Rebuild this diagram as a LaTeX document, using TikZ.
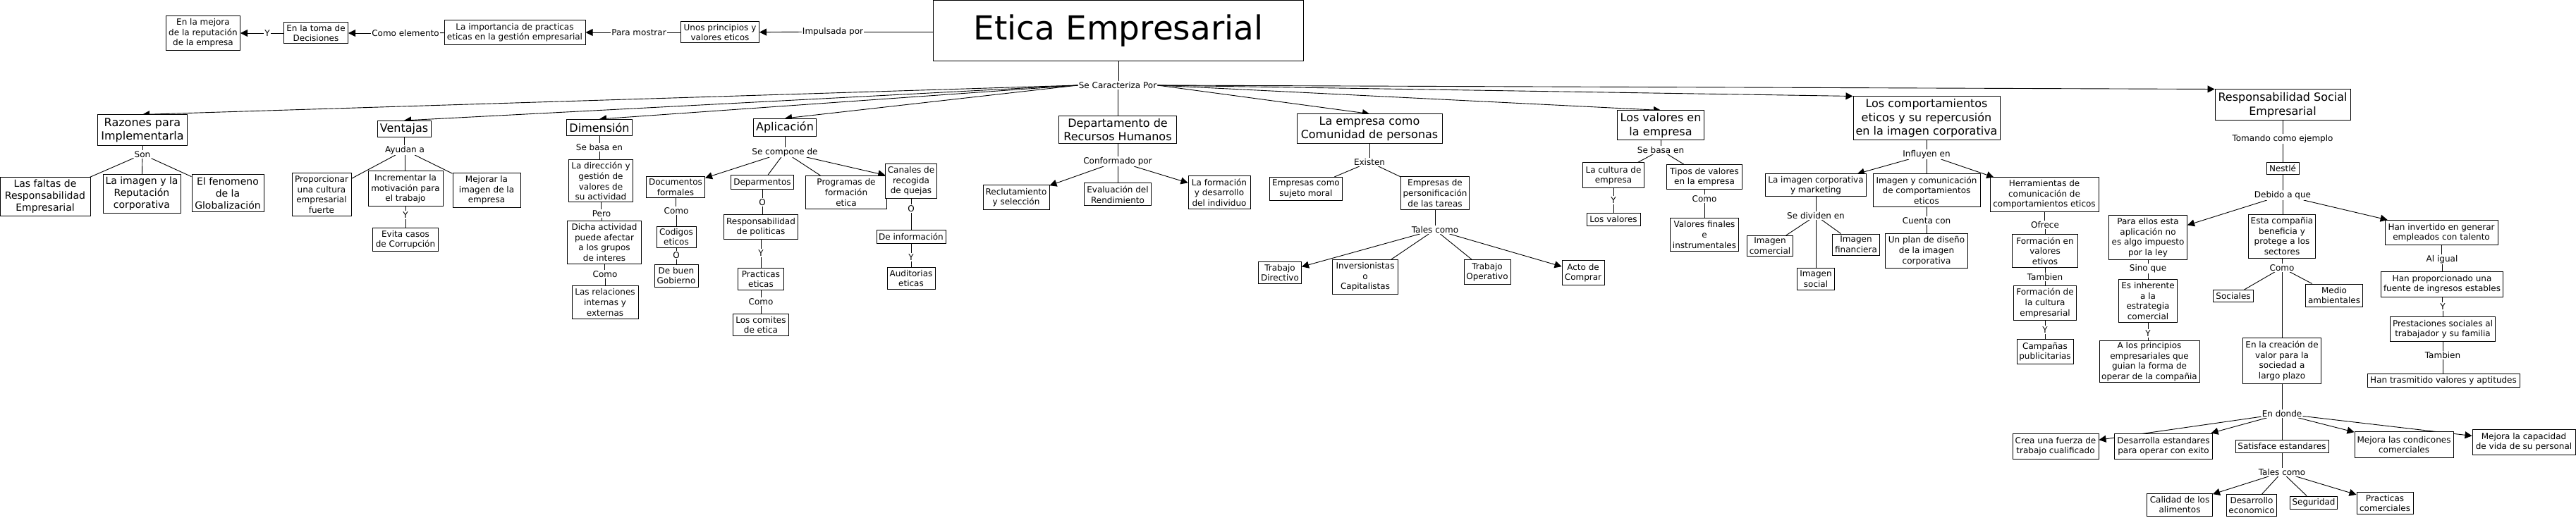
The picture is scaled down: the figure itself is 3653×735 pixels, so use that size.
\documentclass[tikz,border=0pt]{standalone}
\usepackage{fontspec}
\setmainfont{DejaVu Sans}
\usetikzlibrary{arrows.meta}
\pgfdeclarelayer{edges}
\pgfsetlayers{edges,main}
\newcommand{\fsA}{\fontsize{12}{14.6}\selectfont}
\newcommand{\fsB}{\fontsize{14}{17}\selectfont}
\newcommand{\fsC}{\fontsize{16}{19.5}\selectfont}
\newcommand{\fsT}{\fontsize{47}{56}\selectfont}
\newcommand{\vdown}[2]{\draw[ln] (#1) -- (#1 |- #2.north);}
\begin{document}
\begin{tikzpicture}[x=1pt,y=-1pt,
 box/.style={draw=black, line width=1pt, fill=white, align=center, font=\fsA, inner xsep=3pt, inner ysep=2pt},
 cat/.style={box, font=\fsC},
 mid/.style={box, font=\fsB},
 lbl/.style={font=\fsA, inner sep=1pt, fill=white},
 ln/.style={line width=0.9pt, draw=black},
 arr/.style={ln, -{Triangle[length=10pt,width=10pt]}},
]
\useasboundingbox (0,0) rectangle (3653,735);
% ---------------- top chain
\node[box,minimum width=105,minimum height=49] (mejrep) at (288,47) {En la mejora\\de la reputación\\de la empresa};
\node[box,minimum width=91,minimum height=30] (toma) at (448,47) {En la toma de\\Decisiones};
\node[box,minimum width=200,minimum height=35] (import) at (730,46) {La importancia de practicas\\eticas en la gestión empresarial};
\node[box,minimum width=111,minimum height=30] (princ) at (1021,46) {Unos principios y\\valores eticos};
\node[box,font=\fsT,minimum width=525,minimum height=86] (etica) at (1586,44) {Etica Empresarial};
\node[lbl] (ly1) at (379,47) {Y};
\node[lbl] (lcomo) at (575,47) {Como elemento};
\node[lbl] (lpara) at (906,46) {Para mostrar};
\node[lbl] (limp) at (1181,45) {Impulsada por};
\node[lbl] (lsc) at (1585,121) {Se Caracteriza Por};
% ---------------- categories
\node[cat,minimum width=127,minimum height=44] (raz) at (202,185) {Razones para\\Implementarla};
\node[cat,minimum width=76,minimum height=23] (ven) at (573,183) {Ventajas};
\node[cat,minimum width=93,minimum height=23] (dim) at (850,181) {Dimensión};
\node[cat,minimum width=89,minimum height=25] (apl) at (1113,181) {Aplicación};
\node[cat,minimum width=167,minimum height=39] (rh) at (1585,184) {Departamento de\\Recursos Humanos};
\node[cat,minimum width=206,minimum height=42] (com) at (1942,183) {La empresa como\\Comunidad de personas};
\node[cat,minimum width=123,minimum height=42] (val) at (2355,178) {Los valores en\\la empresa};
\node[cat,minimum width=208,minimum height=62] (cmp) at (2732,168) {Los comportamientos\\eticos y su repercusión\\en la imagen corporativa};
\node[cat,minimum width=192,minimum height=44] (rse) at (3237,149) {Responsabilidad Social\\Empresarial};
% ---------------- Razones
\node[lbl] (lson) at (202,219) {Son};
\node[mid,minimum width=128,minimum height=54] (faltas) at (64,279) {Las faltas de\\Responsabilidad\\Empresarial};
\node[mid,minimum width=110,minimum height=55] (imgrep) at (201,275) {La imagen y la\\Reputación\\corporativa};
\node[mid,minimum width=102,minimum height=53] (glob) at (323,274) {El fenomeno\\de la\\Globalización};
% ---------------- Ventajas
\node[lbl] (lay) at (574,213) {Ayudan a};
\node[box,minimum width=84,minimum height=60] (prop) at (456,276) {Proporcionar\\una cultura\\empresarial\\fuerte};
\node[box,minimum width=106,minimum height=50] (incr) at (575,268) {Incrementar la\\motivación para\\el trabajo};
\node[box,minimum width=96,minimum height=49] (mejim) at (690,270) {Mejorar la\\imagen de la\\empresa};
\node[lbl] (ly2) at (575,305) {Y};
\node[box,minimum width=93,minimum height=33] (evita) at (575,340) {Evita casos\\de Corrupción};
% ---------------- Dimension
\node[lbl] (lsb1) at (850,209) {Se basa en};
\node[box,minimum width=91,minimum height=60] (dir) at (852,257) {La dirección y\\gestión de\\valores de\\su actividad};
\node[lbl] (lpero) at (853,303) {Pero};
\node[box,minimum width=105,minimum height=61] (dicha) at (857,344) {Dicha actividad\\puede afectar\\a los grupos\\de interes};
\node[lbl] (lcomo2) at (858,389) {Como};
\node[box,minimum width=94,minimum height=47] (rel) at (858,429) {Las relaciones\\internas y\\externas};
% ---------------- Aplicacion
\node[lbl] (lscd) at (1113,216) {Se compone de};
\node[box,minimum width=83,minimum height=30] (docf) at (958,266) {Documentos\\formales};
\node[lbl] (lcomo3) at (959,299) {Como};
\node[box,minimum width=56,minimum height=30] (codig) at (959,336) {Codigos\\eticos};
\node[lbl] (lo1) at (959,362) {O};
\node[box,minimum width=62,minimum height=32] (buen) at (959,391) {De buen\\Gobierno};
\node[box,minimum width=89,minimum height=20] (deprt) at (1081,259) {Deparmentos};
\node[lbl] (lo2) at (1081,287) {O};
\node[box,minimum width=105,minimum height=35] (resp) at (1079,322) {Responsabilidad\\de politicas};
\node[lbl] (ly3) at (1079,359) {Y};
\node[box,minimum width=65,minimum height=31] (pract) at (1079,396) {Practicas\\eticas};
\node[lbl] (lcomo4) at (1079,428) {Como};
\node[box,minimum width=79,minimum height=31] (comit) at (1079,461) {Los comites\\de etica};
\node[box,minimum width=115,minimum height=47] (progr) at (1200,273) {Programas de\\formación\\etica};
\node[box,minimum width=72,minimum height=49] (canal) at (1292,257) {Canales de\\recogida\\de quejas};
\node[lbl] (lo3) at (1292,296) {O};
\node[box,minimum width=98,minimum height=19] (info) at (1292,336) {De información};
\node[lbl] (ly4) at (1292,365) {Y};
\node[box,minimum width=68,minimum height=31] (audit) at (1292,395) {Auditorias\\eticas};
% ---------------- RH
\node[lbl] (lconf) at (1585,229) {Conformado por};
\node[box,minimum width=94,minimum height=35] (recl) at (1441,280) {Reclutamiento\\y selección};
\node[box,minimum width=95,minimum height=32] (evalr) at (1585,276) {Evaluación del\\Rendimiento};
\node[box,minimum width=88,minimum height=47] (form) at (1729,273) {La formación\\y desarrollo\\del individuo};
% ---------------- Comunidad
\node[lbl] (lexi) at (1942,230) {Existen};
\node[box,minimum width=103,minimum height=33] (suj) at (1852,268) {Empresas como\\sujeto moral};
\node[box,minimum width=96,minimum height=46] (pers) at (2035,274) {Empresas de\\personificación\\de las tareas};
\node[lbl] (ltal1) at (2035,326) {Tales como};
\node[box,minimum width=61,minimum height=31] (tdir) at (1815,387) {Trabajo\\Directivo};
\node[box,minimum width=93,minimum height=49] (invr) at (1936,393) {Inversionistas\\o\\Capitalistas};
\node[box,minimum width=66,minimum height=35] (toper) at (2109,386) {Trabajo\\Operativo};
\node[box,minimum width=60,minimum height=35] (acto) at (2245,387) {Acto de\\Comprar};
% ---------------- Valores
\node[lbl] (lsb2) at (2355,213) {Se basa en};
\node[box,minimum width=87,minimum height=36] (cult) at (2288,249) {La cultura de\\empresa};
\node[lbl] (ly5) at (2288,284) {Y};
\node[box,minimum width=76,minimum height=18] (losv) at (2288,311) {Los valores};
\node[box,minimum width=107,minimum height=35] (tipos) at (2417,251) {Tipos de valores\\en la empresa};
\node[lbl] (lcomo5) at (2417,282) {Como};
\node[box,minimum width=97,minimum height=47] (vfin) at (2417,333) {Valores finales\\e\\instrumentales};
% ---------------- Comportamientos
\node[lbl] (linf) at (2732,219) {Influyen en};
\node[box,minimum width=143,minimum height=32] (imcorp) at (2575,263) {La imagen corporativa\\y marketing};
\node[lbl] (lsdiv) at (2575,306) {Se dividen en};
\node[box,minimum width=64,minimum height=29] (imcom) at (2510,349) {Imagen\\comercial};
\node[box,minimum width=67,minimum height=30] (imfin) at (2632,347) {Imagen\\financiera};
\node[box,minimum width=53,minimum height=31] (imsoc) at (2575,396) {Imagen\\social};
\node[box,minimum width=152,minimum height=47] (imcomu) at (2732,270) {Imagen y comunicación\\de comportamientos\\eticos};
\node[lbl] (lcta) at (2732,313) {Cuenta con};
\node[box,minimum width=117,minimum height=49] (plan) at (2732,356) {Un plan de diseño\\de la imagen\\corporativa};
\node[box,minimum width=154,minimum height=48] (herr) at (2899,276) {Herramientas de\\comunicación de\\comportamientos eticos};
\node[lbl] (lofr) at (2900,319) {Ofrece};
\node[box,minimum width=93,minimum height=47] (fval) at (2900,356) {Formación en\\valores\\etivos};
\node[lbl] (ltamb1) at (2900,393) {Tambien};
\node[box,minimum width=89,minimum height=49] (fcult) at (2900,430) {Formación de\\la cultura\\empresarial};
\node[lbl] (ly6) at (2900,468) {Y};
\node[box,minimum width=80,minimum height=35] (camp) at (2900,499) {Campañas\\publicitarias};
% ---------------- RSE
\node[lbl] (ltom) at (3237,197) {Tomando como ejemplo};
\node[box,minimum width=46,minimum height=17] (nest) at (3237,239) {Nestlé};
\node[lbl] (ldeb) at (3237,277) {Debido a que};
\node[box,minimum width=111,minimum height=63] (para) at (3046,337) {Para ellos esta\\aplicación no\\es algo impuesto\\por la ley};
\node[lbl] (lsino) at (3046,381) {Sino que};
\node[box,minimum width=83,minimum height=61] (inher) at (3046,427) {Es inherente\\a la\\estrategia\\comercial};
\node[lbl] (ly7) at (3046,473) {Y};
\node[box,minimum width=142,minimum height=53] (aprin) at (3048,513) {A los principios\\empresariales que\\guian la forma de\\operar de la compañia};
\node[box,minimum width=95,minimum height=62] (esta) at (3236,335) {Esta compañia\\beneficia y\\protege a los\\sectores};
\node[lbl] (lcomo6) at (3236,380) {Como};
\node[box,minimum width=57,minimum height=17] (soc) at (3167,420) {Sociales};
\node[box,minimum width=81,minimum height=32] (medio) at (3310,419) {Medio\\ambientales};
\node[box,minimum width=111,minimum height=65] (creac) at (3236,512) {En la creación de\\valor para la\\sociedad a\\largo plazo};
\node[lbl] (ldon) at (3236,587) {En donde};
\node[box,minimum width=122,minimum height=36] (crea) at (2915,633) {Crea una fuerza de\\trabajo cualificado};
\node[box,minimum width=139,minimum height=36] (desa) at (3068,633) {Desarrolla estandares\\para operar con exito};
\node[box,minimum width=132,minimum height=18] (satis) at (3236,633) {Satisface estandares};
\node[box,minimum width=140,minimum height=37] (mcond) at (3409,631) {Mejora las condicones\\comerciales};
\node[box,minimum width=146,minimum height=36] (mcap) at (3579,627) {Mejora la capacidad\\de vida de su personal};
\node[lbl] (ltal2) at (3236,670) {Tales como};
\node[box,minimum width=93,minimum height=32] (calid) at (3091,716) {Calidad de los\\alimentos};
\node[box,minimum width=71,minimum height=31] (desec) at (3193,717) {Desarrollo\\economico};
\node[box,minimum width=66,minimum height=18] (segur) at (3281,713) {Seguridad};
\node[box,minimum width=80,minimum height=31] (pcom) at (3382,714) {Practicas\\comerciales};
\node[box,minimum width=160,minimum height=35] (hinv) at (3462,330) {Han invertido en generar\\empleados con talento};
\node[lbl] (ligual) at (3463,368) {Al igual};
\node[box,minimum width=173,minimum height=36] (hprop) at (3463,403) {Han proporcionado una\\fuente de ingresos estables};
\node[lbl] (ly8) at (3464,435) {Y};
\node[box,minimum width=149,minimum height=35] (prest) at (3464,467) {Prestaciones sociales al\\trabajador y su familia};
\node[lbl] (ltamb2) at (3464,504) {Tambien};
\node[box,minimum width=216,minimum height=19] (htras) at (3465,540) {Han trasmitido valores y aptitudes};

% ================= edges
\begin{pgfonlayer}{edges}
\fill[white] (0,0) rectangle (3653,735);
% top chain
\draw[ln] (etica.west |- limp) -- (limp);
\draw[arr] (limp) -- (princ);
\draw[ln] (princ) -- (lpara);
\draw[arr] (lpara) -- (import);
\draw[ln] (import) -- (lcomo);
\draw[arr] (lcomo) -- (toma);
\draw[ln] (toma) -- (ly1);
\draw[arr] (ly1) -- (mejrep);
% se caracteriza
\vdown{etica}{lsc}
\draw[arr] (lsc.west) -- (raz.north);
\draw[arr] (lsc.west) -- (ven.north);
\draw[arr] (lsc.west) -- (dim.north);
\draw[arr] (lsc.west) -- (apl.north);
\vdown{lsc}{rh}
\draw[arr] (lsc.east) -- (com.north);
\draw[arr] (lsc.east) -- (val.north);
\draw[arr] (lsc.east) -- (cmp.north west);
\draw[arr] (lsc.east) -- (rse.north west);
% razones
\vdown{raz}{lson}
\draw[ln] (lson) -- (faltas);
\draw[ln] (lson) -- (imgrep);
\draw[ln] (lson) -- (glob);
% ventajas
\vdown{ven}{lay}
\draw[ln] (lay) -- (prop);
\vdown{lay}{incr}
\draw[ln] (lay) -- (mejim);
\vdown{incr}{ly2}
\vdown{ly2}{evita}
% dimension
\vdown{dim}{lsb1}
\vdown{lsb1}{dir}
\vdown{dir}{lpero}
\vdown{lpero}{dicha}
\vdown{dicha}{lcomo2}
\vdown{lcomo2}{rel}
% aplicacion
\vdown{apl}{lscd}
\draw[arr] (lscd) -- (docf);
\draw[ln] (lscd) -- (deprt);
\draw[ln] (lscd) -- (progr);
\draw[arr] (lscd) -- (canal);
\vdown{docf}{lcomo3}
\vdown{lcomo3}{codig}
\vdown{codig}{lo1}
\vdown{lo1}{buen}
\vdown{deprt}{lo2}
\vdown{lo2}{resp}
\vdown{resp}{ly3}
\vdown{ly3}{pract}
\vdown{pract}{lcomo4}
\vdown{lcomo4}{comit}
\vdown{canal}{lo3}
\vdown{lo3}{info}
\vdown{info}{ly4}
\vdown{ly4}{audit}
% RH
\vdown{rh}{lconf}
\draw[arr] (lconf) -- (recl);
\vdown{lconf}{evalr}
\draw[arr] (lconf) -- (form);
% comunidad
\vdown{com}{lexi}
\draw[ln] (lexi) -- (suj);
\draw[ln] (lexi) -- (pers);
\vdown{pers}{ltal1}
\draw[arr] (ltal1) -- (tdir);
\draw[ln] (ltal1) -- (invr);
\draw[ln] (ltal1) -- (toper);
\draw[arr] (ltal1) -- (acto);
% valores
\vdown{val}{lsb2}
\draw[ln] (lsb2) -- (cult);
\draw[ln] (lsb2) -- (tipos);
\vdown{cult}{ly5}
\vdown{ly5}{losv}
\vdown{tipos}{lcomo5}
\vdown{lcomo5}{vfin}
% comportamientos
\vdown{cmp}{linf}
\draw[arr] (linf) -- (imcorp);
\vdown{linf}{imcomu}
\draw[arr] (linf) -- (herr);
\vdown{imcorp}{lsdiv}
\draw[ln] (lsdiv) -- (imcom);
\draw[ln] (lsdiv) -- (imfin);
\vdown{lsdiv}{imsoc}
\vdown{imcomu}{lcta}
\vdown{lcta}{plan}
\vdown{herr}{lofr}
\vdown{lofr}{fval}
\vdown{fval}{ltamb1}
\vdown{ltamb1}{fcult}
\vdown{fcult}{ly6}
\vdown{ly6}{camp}
% RSE
\vdown{rse}{ltom}
\vdown{ltom}{nest}
\vdown{nest}{ldeb}
\draw[arr] (ldeb) -- (para);
\vdown{ldeb}{esta}
\draw[arr] (ldeb) -- (hinv);
\vdown{para}{lsino}
\vdown{lsino}{inher}
\vdown{inher}{ly7}
\vdown{ly7}{aprin}
\vdown{esta}{lcomo6}
\draw[ln] (lcomo6) -- (soc);
\draw[ln] (lcomo6) -- (medio);
\vdown{lcomo6}{creac}
\vdown{creac}{ldon}
\draw[arr] (ldon) -- (crea);
\draw[arr] (ldon) -- (desa);
\vdown{ldon}{satis}
\draw[arr] (ldon) -- (mcond);
\draw[arr] (ldon) -- (mcap);
\vdown{satis}{ltal2}
\draw[arr] (ltal2) -- (calid);
\draw[ln] (ltal2) -- (desec);
\draw[ln] (ltal2) -- (segur);
\draw[arr] (ltal2) -- (pcom);
\vdown{hinv}{ligual}
\vdown{ligual}{hprop}
\vdown{hprop}{ly8}
\vdown{ly8}{prest}
\vdown{prest}{ltamb2}
\vdown{ltamb2}{htras}
\end{pgfonlayer}
\end{tikzpicture}
\end{document}
